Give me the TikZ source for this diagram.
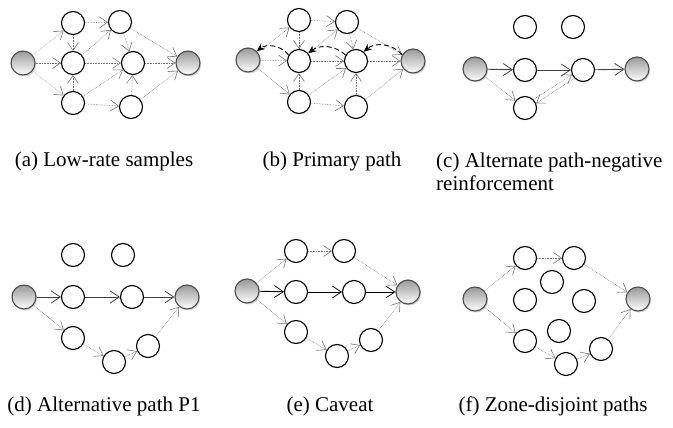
\documentclass[tikz,border=0pt]{standalone}
\usepackage{fontspec}
\setmainfont{Liberation Serif}
\usetikzlibrary{arrows.meta,shadows}

\begin{document}
\begin{tikzpicture}[x=1pt,y=-1pt,
  peer/.style={circle,draw=black,line width=1.1pt,minimum size=23pt,
    inner sep=0pt,fill=white},
  endpeer/.style={circle,draw=gray!60!black,line width=1.1pt,minimum size=24pt,
    inner sep=0pt,top color=gray!80,bottom color=white,
    drop shadow={shadow xshift=1.2pt,shadow yshift=-1.5pt,opacity=0.35}},
  probe/.style={densely dotted,black!55,line width=0.6pt,
    -{Straight Barb[length=8pt,width=11pt,line width=0.6pt]}},
  route/.style={black!75,line width=0.9pt,
    -{Straight Barb[length=9pt,width=12pt,line width=0.8pt]}},
  reinf/.style={black,line width=0.9pt,dash pattern=on 5pt off 3pt,
    -{Stealth[length=8pt,width=7pt]}},
  caption/.style={font=\fontsize{21}{23}\selectfont,inner sep=0pt}]

  \useasboundingbox (0,0) rectangle (673,428);

  % (a) low-rate samples
  \node[endpeer] (sa) at (23,63) {};
  \node[peer] (a1) at (73,23) {};
  \node[peer] (a2) at (73,63) {};
  \node[peer] (a3) at (73,103) {};
  \node[peer] (a4) at (120,22) {};
  \node[peer] (a5) at (133,63) {};
  \node[peer] (a6) at (131,107) {};
  \node[endpeer] (ta) at (188,63) {};

  % (b) primary path
  \node[endpeer] (sb) at (248,60) {};
  \node[peer] (b1) at (299,20) {};
  \node[peer] (b2) at (299,61) {};
  \node[peer] (b3) at (299,102) {};
  \node[peer] (b4) at (347,22) {};
  \node[peer] (b5) at (356,61) {};
  \node[peer] (b6) at (356,107) {};
  \node[endpeer] (tb) at (413,61) {};

  \foreach \p in {a,b}{
    \draw[probe] (s\p) -- (\p1);
    \draw[probe] (s\p) -- (\p2);
    \draw[probe] (s\p) -- (\p3);
    \draw[probe] (\p1) -- (\p2);
    \draw[probe] (\p3) -- (\p2);
    \draw[probe] (\p1) -- (\p4);
    \draw[probe] (\p2) -- (\p4);
    \draw[probe] (\p2) -- (\p5);
    \draw[probe] (\p3) -- (\p5);
    \draw[probe] (\p3) -- (\p6);
    \draw[probe] (\p4) -- (\p5);
    \draw[probe] (\p6) -- (\p5);
    \draw[probe] (\p4) -- (t\p);
    \draw[probe] (\p5) -- (t\p);
    \draw[probe] (\p6) -- (t\p);
  }

  \draw[reinf] (tb.150) to[bend right=45] (b5.50);
  \draw[reinf] (b5.150) to[bend right=40] (b2.40);
  \draw[reinf] (b2.150) to[bend right=45] (sb.45);

  % (c) alternate path, negative reinforcement
  \node[peer] (c1) at (525,27) {};
  \node[peer] (c2) at (573,27) {};
  \node[endpeer] (sc) at (475,69) {};
  \node[peer] (c3) at (525,70) {};
  \node[peer] (c4) at (583,70) {};
  \node[peer] (c5) at (525,108) {};
  \node[endpeer] (tc) at (637,69) {};

  \draw[route] (sc) -- (c3);
  \draw[route] (c3) -- (c4);
  \draw[route] (c4) -- (tc);
  \draw[probe] (sc) -- (c5);
  \draw[probe] (c5.45) -- (c4.203);
  \draw[probe] (c4.223) -- (c5.23);

  % (d) alternative path P1
  \node[peer] (d1) at (73,255) {};
  \node[peer] (d2) at (123,255) {};
  \node[endpeer] (sd) at (24,297) {};
  \node[peer] (d3) at (73,297) {};
  \node[peer] (d4) at (132,297) {};
  \node[endpeer] (td) at (187,297) {};
  \node[peer] (d5) at (73,338) {};
  \node[peer] (d6) at (114,362) {};
  \node[peer] (d7) at (148,346) {};

  \draw[route] (sd) -- (d3);
  \draw[route] (d3) -- (d4);
  \draw[route] (d4) -- (td);
  \draw[probe] (sd) -- (d5);
  \draw[probe] (d5) -- (d6);
  \draw[probe] (d6) -- (d7);
  \draw[probe] (d7) -- (td);

  % (e) caveat
  \node[endpeer] (se) at (247,291) {};
  \node[peer] (e1) at (296,251) {};
  \node[peer] (e2) at (344,251) {};
  \node[peer] (e3) at (296,292) {};
  \node[peer] (e4) at (354,292) {};
  \node[endpeer] (te) at (408,292) {};
  \node[peer] (e5) at (296,332) {};
  \node[peer] (e6) at (337,356) {};
  \node[peer] (e7) at (371,340) {};

  \draw[probe] (se) -- (e1);
  \draw[probe] (e1) -- (e2);
  \draw[probe] (e2) -- (te);
  \draw[route,black] (se) -- (e3);
  \draw[route,black] (e3) -- (e4);
  \draw[route,black] (e4) -- (te);
  \draw[probe] (se) -- (e5);
  \draw[probe] (e5) -- (e6);
  \draw[probe] (e6) -- (e7);
  \draw[probe] (e7) -- (te);

  % (f) zone-disjoint paths
  \node[endpeer] (sf) at (475,299) {};
  \node[peer] (f1) at (525,258) {};
  \node[peer] (f2) at (574,258) {};
  \node[peer] (f3) at (552,282) {};
  \node[peer] (f4) at (525,300) {};
  \node[peer] (f5) at (584,301) {};
  \node[peer] (f6) at (559,331) {};
  \node[peer] (f7) at (525,341) {};
  \node[peer] (f8) at (566,364) {};
  \node[peer] (f9) at (601,349) {};
  \node[endpeer] (tf) at (638,299) {};

  \draw[probe] (sf) -- (f1);
  \draw[probe] (f1) -- (f2);
  \draw[probe] (f2) -- (tf);
  \draw[probe] (sf) -- (f7);
  \draw[probe] (f7) -- (f8);
  \draw[probe] (f8) -- (f9);
  \draw[probe] (f9) -- (tf);

  % captions
  \node[caption,anchor=base] (capa) at (104,167) {(a) Low-rate samples};
  \node[caption,anchor=base] (capb) at (332,167) {(b) Primary path};
  \node[caption,anchor=base west,align=left] (capc) at (436,190)
    {(c) Alternate path-negative\\reinforcement};
  \node[caption,anchor=base] (capd) at (104,411) {(d) Alternative path P1};
  \node[caption,anchor=base] (cape) at (330,411) {(e) Caveat};
  \node[caption,anchor=base] (capf) at (553,411) {(f) Zone-disjoint paths};

\end{tikzpicture}
\end{document}
